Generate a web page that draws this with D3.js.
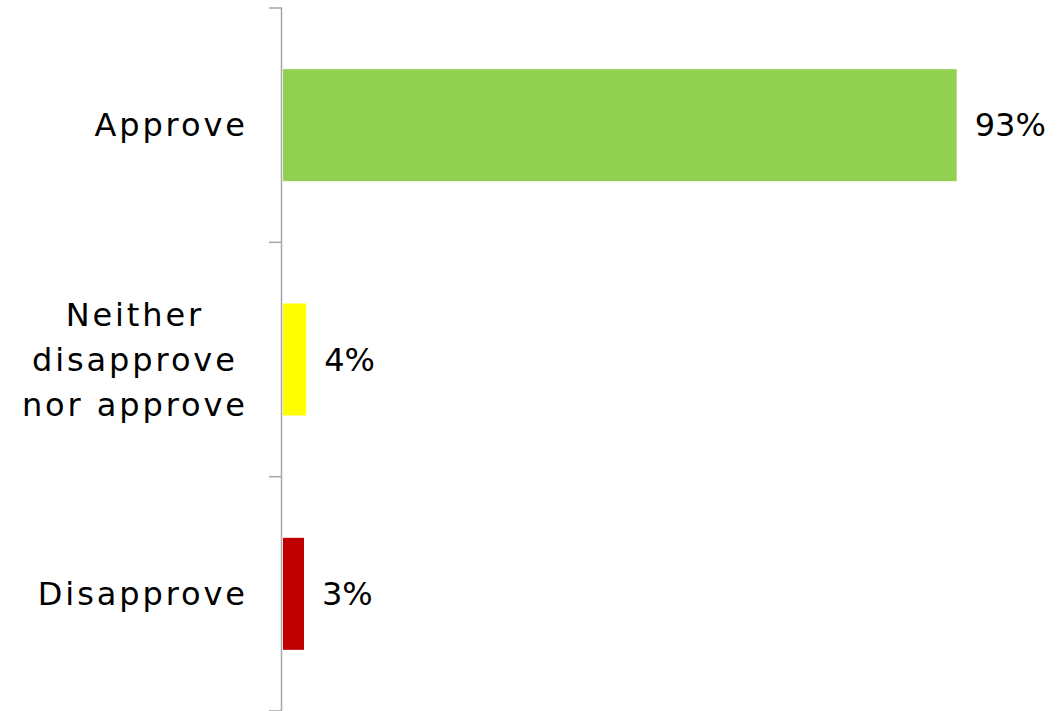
<!DOCTYPE html>
<html><head><meta charset="utf-8">
<script src="https://cdn.jsdelivr.net/npm/d3@7"></script>
<style>body{margin:0;background:#fff;} svg{display:block;}</style>
</head><body>
<svg id="c" width="1063" height="711"></svg>
<script>
const categories = [["Approve"], ["Neither", "disapprove", "nor approve"], ["Disapprove"]];
const values = [93, 3.2, 2.9];
const valueLabels = ["93%", "4%", "3%"];
const colors = ["#92D050", "#FFFF00", "#C00000"];

const svg = d3.select("#c");
const font = "'DejaVu Sans', sans-serif";
const fs = 32;
const ls = 2.9;

const y = d3.scaleBand().domain(d3.range(categories.length)).range([8, 711])
  .paddingInner(0.522).paddingOuter(0.261);
const x = d3.scaleLinear().domain([0, 100]).range([283, 283 + 724.4]);

svg.append("line").attr("x1", 281.5).attr("x2", 281.5).attr("y1", 8).attr("y2", 711)
  .attr("stroke", "#A6A6A6").attr("stroke-width", 1.5);
d3.range(categories.length + 1).forEach(i => {
  const ty = 8 + i * y.step();
  svg.append("line").attr("x1", 269).attr("x2", 282).attr("y1", ty).attr("y2", ty)
    .attr("stroke", "#A6A6A6").attr("stroke-width", 1.5);
});

svg.selectAll("rect.bar").data(values).join("rect").attr("class", "bar")
  .attr("x", x(0)).attr("y", (d, i) => y(i))
  .attr("width", d => x(d) - x(0)).attr("height", y.bandwidth())
  .attr("fill", (d, i) => colors[i]);

svg.selectAll("text.val").data(values).join("text").attr("class", "val")
  .attr("x", d => x(d) + 18).attr("y", (d, i) => y(i) + y.bandwidth() / 2)
  .attr("dominant-baseline", "central")
  .attr("font-family", font).attr("font-size", fs).attr("fill", "#000")
  .text((d, i) => valueLabels[i]);

const lh = 45;
const rightEdge = 245;
categories.forEach((lines, i) => {
  const cy = y(i) + y.bandwidth() / 2;
  const t = svg.append("text").attr("text-anchor", "middle")
    .attr("font-family", font).attr("font-size", fs).attr("fill", "#000")
    .attr("letter-spacing", ls);
  const spans = lines.map((ln, j) => t.append("tspan")
    .attr("y", cy + (j - (lines.length - 1) / 2) * lh)
    .attr("dominant-baseline", "central").text(ln));
  const maxW = d3.max(spans, s => s.node().getComputedTextLength()) - ls;
  spans.forEach(s => s.attr("x", rightEdge - maxW / 2 + ls / 2));
});
</script>
</body></html>
